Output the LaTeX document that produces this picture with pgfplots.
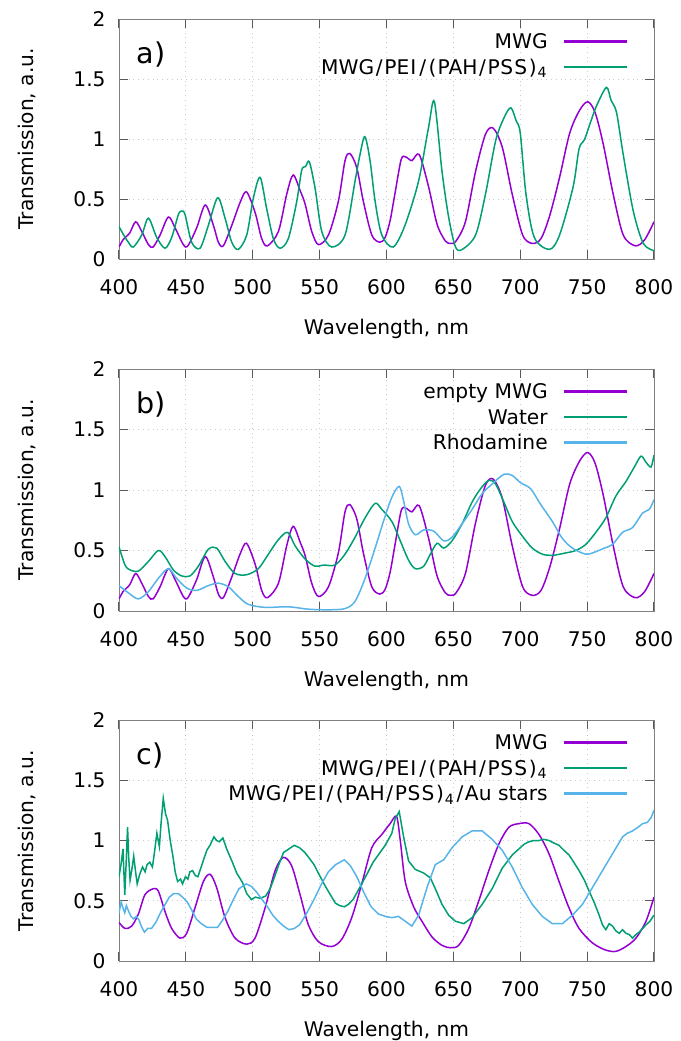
\documentclass[border=0pt]{standalone}
\usepackage{pgfplots}
\pgfplotsset{compat=1.18}
\usepackage{pgfplotstable}
\usepackage{fontspec}
\setmainfont{DejaVu Sans}
\definecolor{gpurple}{HTML}{9400D3}
\definecolor{ggreen}{HTML}{009E73}
\definecolor{gblue}{HTML}{56B4E9}
\newcommand{\Sl}{\kern0.08em/\kern0.08em}
\newcommand{\Lp}{\kern0.05em(\kern0.05em}
\newcommand{\Rp}{\kern0.05em)\kern0.05em}
\newcommand{\Ss}{\kern0.03em S\kern0.03em}
\newcommand{\Ii}{\kern0.06em I\kern0.06em}
\newcommand{\pss}{MWG\Sl PE\Ii\Sl\Lp PAH\Sl P\Ss\Ss\Rp\textsubscript{4}}
% legend row: #1 offset of the row below the axis top, #2 line colour, #3 text
\newcommand{\legrow}[3]{%
  \fill[#2] ([yshift=-#1-0.55pt]axis description cs:0.831,1) rectangle ([yshift=-#1+0.55pt]axis description cs:0.949,1);
  \node[anchor=base east, inner sep=0pt] at ([yshift=-#1-3.7pt]axis description cs:0.802,1) {#3};}

\pgfplotstableread{
x y
400 0.10
403 0.16
405.7 0.19
408.2 0.22
412.5 0.31
417 0.23
422 0.12
425.5 0.10
430.7 0.20
436.9 0.35
441.9 0.26
448.1 0.12
451.5 0.11
458.1 0.26
464.5 0.45
470.6 0.28
474.3 0.14
478 0.11
484.3 0.28
490.5 0.47
495.3 0.56
501.7 0.39
506.7 0.17
511 0.11
519.2 0.23
525.4 0.54
530.2 0.70
535.4 0.57
539.1 0.46
544.1 0.23
549.1 0.12
556.6 0.20
564 0.48
569 0.82
572.6 0.88
577.8 0.76
582.7 0.48
589 0.20
595 0.14
599 0.18
602.7 0.32
606.4 0.55
611 0.83
614.5 0.85
619 0.82
624.5 0.87
631.5 0.60
637.8 0.29
644 0.15
648 0.13
652 0.15
659 0.31
666.6 0.73
674 1.04
679.8 1.09
686.6 0.93
694 0.54
701.8 0.20
709 0.13
715.5 0.17
722 0.36
729.4 0.68
737 1.05
744.4 1.24
750.5 1.31
756 1.22
762 0.96
769.5 0.54
777 0.20
786 0.11
793 0.16
800 0.31
}\mwg

\tikzset{plab/.style={anchor=base west, inner sep=0pt, font=\fontsize{14.3pt}{16pt}\selectfont}}
\pgfplotsset{
  gp/.style={
    scale only axis, width=267.5pt,
    xmin=400, xmax=800, ymin=0, ymax=2,
    xtick={400,450,...,800}, ytick={0,0.5,1,1.5,2},
    /pgf/number format/assume math mode=true,
    tick pos=both, tick align=inside,
    axis line style={black!50},
    major tick style={black!65, line width=0.5pt},
    major tick length=4.5pt,
    grid=major, major grid style={black!20, dotted, line width=0.4pt},
    yticklabel style={inner sep=0pt, anchor=east, xshift=-6.5pt},
    xticklabel style={inner sep=0pt, anchor=north, yshift=-10pt},
    every axis plot/.append style={line width=0.75pt},
    xlabel={Wavelength, nm}, ylabel={Transmission, a.u.},
    xlabel style={at={([yshift=-37.5pt]axis description cs:0.5,0)}, anchor=base, inner sep=0pt},
    ylabel style={at={([xshift=-42.5pt]axis description cs:0,0.5)}, anchor=base, inner sep=0pt},
  },
}

\begin{document}
\fontsize{10.1pt}{12pt}\selectfont
\begin{tikzpicture}
% ---------------- a) ----------------
\begin{axis}[gp, height=120pt, at={(59.5pt,-9.5pt)}, anchor=north west]
\addplot[gpurple, smooth, tension=0.5] table {\mwg};
\addplot[ggreen, smooth, tension=0.5] coordinates {
(400,0.27) (403.5,0.20) (407,0.14) (410.7,0.10) (417,0.20) (422,0.34) (428.2,0.18)
(434.4,0.09) (439.4,0.18) (444.4,0.37) (446.9,0.40) (449.4,0.37) (454.3,0.14)
(460.6,0.09) (466.8,0.28) (473.8,0.51) (479.3,0.34) (484.3,0.14) (489.2,0.08)
(495.5,0.20) (500.5,0.51) (505.5,0.68) (510.4,0.42) (515.4,0.17) (520.4,0.09)
(526.6,0.17) (532.9,0.48) (536.6,0.74) (539.5,0.77) (542.3,0.81) (546.6,0.59) (551.6,0.23)
(559,0.10) (569,0.20) (576.5,0.65) (580.2,0.87) (583.8,1.02) (587.7,0.82)
(591.5,0.48) (596.5,0.20) (605,0.10) (613.8,0.28) (624,0.65) (631.5,1.10)
(635.8,1.31) (641.5,0.73) (646.6,0.34) (651.6,0.10) (656.6,0.08) (666.6,0.20)
(674,0.54) (681.6,0.985) (688,1.18) (693,1.26) (697,1.15) (700,1.05) (704.3,0.54)
(710.5,0.18) (721.8,0.08) (729.4,0.20) (739.5,0.60) (744,0.92) (748.2,1.00) (754.4,1.20)
(758,1.30) (764.5,1.43) (768,1.32) (772,1.22) (777,0.87) (784.5,0.40) (792,0.13) (800,0.07)
};
\legrow{11.25pt}{gpurple}{MWG}
\legrow{24pt}{ggreen}{\pss}
\node[plab] at (rel axis cs:0.032,0.815) {a)};
\end{axis}
% ---------------- b) ----------------
\begin{axis}[gp, height=121pt, at={(59.5pt,-184.5pt)}, anchor=north west]
\addplot[gpurple, smooth, tension=0.5] table {\mwg};
\addplot[ggreen, smooth, tension=0.5] coordinates {
(400,0.53) (404.5,0.38) (408.2,0.34) (414.5,0.33) (422,0.41) (429.4,0.50) (434.4,0.45)
(440.6,0.34) (446.9,0.29) (453.1,0.29) (459.3,0.37) (466.8,0.51) (473,0.52)
(479.3,0.41) (486.8,0.31) (495.5,0.30) (504.2,0.35) (511.7,0.47) (519.2,0.59)
(526.1,0.65) (531.6,0.54) (539.1,0.43) (546.6,0.37) (552.8,0.38) (561.5,0.38)
(569,0.47) (576.5,0.61) (584,0.77) (591.5,0.89) (596.5,0.84) (604,0.74)
(610.3,0.58) (616.5,0.42) (621.5,0.35) (627.8,0.37) (632.8,0.47) (637.8,0.56)
(642.8,0.52) (649,0.58) (656.5,0.72) (664,0.90) (670.3,1.01) (676.5,1.08)
(681.5,1.05) (687.8,0.90) (694,0.74) (701.5,0.62) (709,0.52) (716.5,0.47)
(724,0.46) (734,0.48) (741.5,0.50) (749,0.55) (756.5,0.65) (764,0.77)
(771.5,0.95) (779,1.07) (785.3,1.19) (790.3,1.28) (794,1.23) (797.8,1.19) (800,1.29)
};
\addplot[gblue, smooth, tension=0.5] coordinates {
(400,0.21) (407,0.15) (414.5,0.10) (422,0.16) (429.4,0.27) (436.9,0.35) (443.1,0.27)
(450.6,0.19) (458.1,0.17) (466.8,0.21) (474.3,0.23) (481.8,0.20) (489.2,0.12)
(496.7,0.055) (509.2,0.03) (526.6,0.035) (541.6,0.015) (556.6,0.01) (569,0.02)
(576.5,0.08) (584,0.27) (591.5,0.52) (597.7,0.74) (604,0.94) (609.5,1.03)
(612.8,0.91) (616.5,0.72) (621.5,0.63) (627.8,0.67) (635.3,0.66) (642.8,0.58)
(649,0.61) (656.5,0.72) (664,0.84) (671.5,0.97) (679,1.05) (687.8,1.13)
(694,1.12) (700.3,1.06) (707.8,1.01) (715.3,0.88) (724,0.74) (731.5,0.60)
(739,0.52) (749,0.47) (756.5,0.49) (762.8,0.52) (769,0.55) (776.5,0.65)
(784,0.69) (791.5,0.81) (796.5,0.84) (800,0.92)
};
\legrow{11.25pt}{gpurple}{empty MWG}
\legrow{24pt}{ggreen}{Water}
\legrow{36.75pt}{gblue}{Rhodamine}
\node[plab] at (rel axis cs:0.032,0.815) {b)};
\end{axis}
% ---------------- c) ----------------
\begin{axis}[gp, height=120.5pt, at={(59.5pt,-360pt)}, anchor=north west]
\addplot[gpurple, smooth, tension=0.5] coordinates {
(400,0.32) (404.5,0.27) (409.5,0.29) (414.5,0.39) (419.4,0.55) (425.7,0.60)
(429.4,0.58) (434.4,0.41) (439.4,0.27) (445.6,0.19) (450.6,0.23) (456.8,0.44)
(463.1,0.66) (468.1,0.72) (473,0.61) (479.3,0.36) (486.8,0.19) (495.5,0.14)
(501.7,0.19) (509.2,0.44) (516.7,0.75) (522.9,0.86) (529.1,0.79) (535.4,0.55)
(541.6,0.30) (549.1,0.16) (559,0.12) (566.5,0.18) (574,0.36) (581.5,0.64)
(589,0.94) (596.5,1.05) (602.7,1.14) (607.5,1.20) (610.3,1.00) (614,0.66)
(620.3,0.45) (626.5,0.33) (634,0.20) (641.5,0.13) (647.8,0.11) (654,0.13)
(661.5,0.27) (669,0.50) (676.5,0.75) (684,0.97) (691.5,1.11) (699,1.14)
(706.5,1.14) (714,1.05) (721.5,0.89) (729,0.66) (736.5,0.44) (744,0.27)
(754,0.15) (764,0.09) (771.5,0.08) (779,0.12) (786.5,0.19) (794,0.33) (800,0.53)
};
\addplot[ggreen] coordinates {
(400,0.70) (401.5,0.80) (403,0.93) (404.3,0.55) (405.3,0.80) (406.4,1.11) (407.3,0.85)
(408.3,0.67) (409.5,0.75) (411,0.87) (412.3,0.75) (413.6,0.64) (415.5,0.72) (417.6,0.78)
(419.5,0.74) (421,0.80) (423,0.82) (425,0.78) (426.5,0.90) (428.3,1.06) (430.2,0.95)
(431.5,1.15) (433.1,1.35) (434.8,1.22) (436.3,1.17) (438.3,1.00) (440.3,0.87)
(442,0.74) (443.8,0.66) (446,0.68) (447.5,0.64) (449.7,0.70) (451.5,0.68) (453,0.74)
(455,0.75) (457,0.71) (459,0.70) (462,0.80) (465.7,0.92) (468,0.96) (471,1.03)
(473,1.00) (475,0.99) (477.7,1.02) (480.5,0.93) (484.4,0.83) (488,0.73) (492.4,0.65)
(495.5,0.56) (499,0.51) (502,0.53) (505.7,0.52) (509.7,0.54) (513,0.60) (516.4,0.70)
(519.5,0.80) (523,0.90) (527,0.93) (531,0.96) (535,0.94) (539,0.90) (542.5,0.85)
(545.8,0.80) (549.5,0.72) (553.8,0.63) (558,0.55) (561.8,0.48) (565,0.46) (568.5,0.45)
(571.5,0.47) (575,0.51) (580,0.61) (585.8,0.73) (590,0.82) (594.5,0.89) (599,0.96)
(604,1.06) (606.5,1.18) (609.5,1.24) (612.8,1.03) (616.5,0.83) (621.5,0.76)
(627.8,0.73) (632.8,0.69) (636.5,0.60) (641.5,0.47) (646.5,0.38) (651.5,0.33)
(657.8,0.31) (664,0.36) (671.5,0.47) (679,0.60) (686.5,0.77) (694,0.88) (699,0.93)
(703,0.97) (706.5,0.99) (710,1.00) (714,1.00) (717.5,1.01) (721.5,1.00) (725,0.98)
(729,0.96) (732.5,0.92) (736.5,0.88) (740,0.82) (744,0.75) (748,0.67) (751.5,0.58)
(755.5,0.48) (759,0.38) (761.5,0.30) (764,0.26) (766.5,0.31) (769,0.29) (771.5,0.25)
(774,0.23) (776.5,0.26) (779,0.23) (781.5,0.22) (784,0.19) (786.5,0.22) (789,0.24)
(791.5,0.27) (794,0.30) (797,0.33) (800,0.38)
};
\addplot[gblue] coordinates {
(400,0.40) (401.6,0.49) (403,0.44) (404.3,0.40) (405.5,0.46) (406.9,0.42) (409,0.37)
(410.9,0.35) (413,0.37) (415,0.34) (417,0.28) (419,0.24) (421.5,0.27) (424.3,0.27)
(427.5,0.32) (431,0.40) (434,0.46) (437.6,0.53) (441,0.56) (444.3,0.56) (447.5,0.53)
(451,0.49) (454.5,0.42) (457.7,0.35) (461.5,0.31) (465.7,0.28) (469.5,0.28)
(473.7,0.28) (477.5,0.34) (481.7,0.42) (485.5,0.51) (489.7,0.60) (495,0.64)
(499,0.62) (503,0.57) (507,0.51) (511,0.45) (515,0.38) (519,0.33) (523,0.29)
(527,0.26) (531,0.27) (535,0.30) (540,0.39) (545.8,0.51) (551,0.63) (556.5,0.74)
(562,0.80) (568.5,0.84) (573,0.79) (577.8,0.70) (583,0.57) (588.5,0.45)
(594,0.39) (599.2,0.37) (604,0.36) (609,0.37) (614,0.33) (619,0.29) (624,0.38)
(630.3,0.61) (636.5,0.80) (642.8,0.84) (649,0.94) (656.5,1.03) (664,1.08)
(671.5,1.08) (679,1.01) (686.5,0.92) (694,0.78) (701.5,0.61) (709,0.47)
(716.5,0.37) (724,0.31) (731.5,0.31) (739,0.38) (746.5,0.47) (754,0.61)
(761.5,0.75) (769,0.89) (776.5,1.03) (780,1.06) (784,1.08) (788,1.11) (791.5,1.14)
(795,1.15) (797.8,1.19) (800,1.25)
};
\legrow{11.25pt}{gpurple}{MWG}
\legrow{24pt}{ggreen}{\pss}
\legrow{36.75pt}{gblue}{\pss\Sl Au stars}
\node[plab] at (rel axis cs:0.032,0.815) {c)};
\end{axis}
\pgfresetboundingbox
\path (0pt,0pt) rectangle (340.5pt,-520.5pt);
\end{tikzpicture}
\end{document}
